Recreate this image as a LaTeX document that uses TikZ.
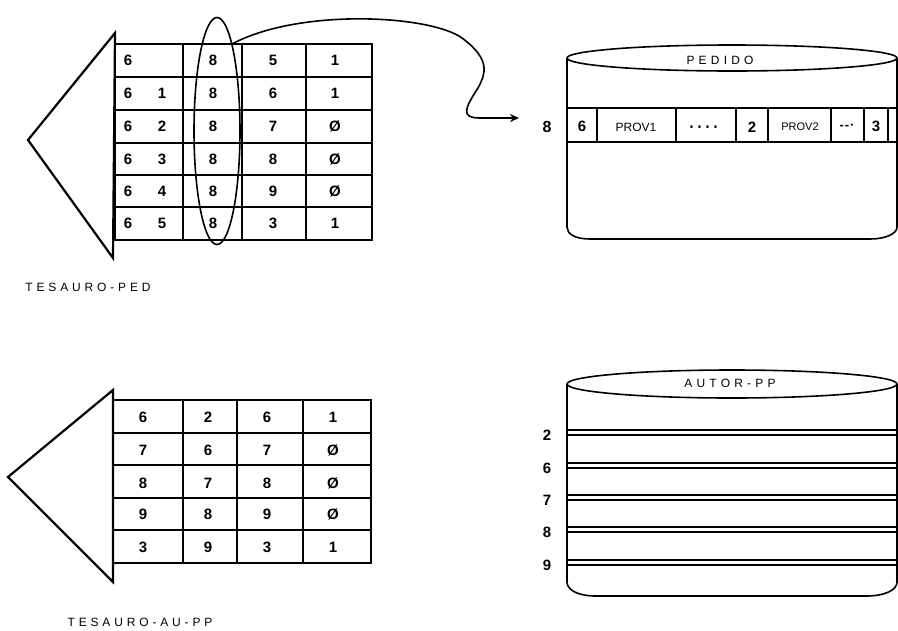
\documentclass[tikz,border=0pt]{standalone}
\usepackage{fontspec}
\setmainfont{Liberation Sans}
\usetikzlibrary{shapes.geometric,arrows.meta}
\begin{document}
\begin{tikzpicture}[x=1pt,y=-1pt,
  grid/.style={line width=1.6pt},
  thick line/.style={line width=2.2pt},
  cell/.style={font=\fontsize{15}{15}\selectfont\bfseries, inner sep=0pt},
  small/.style={font=\fontsize{12}{12}\selectfont, inner sep=0pt},
  lab/.style={font=\fontsize{12}{12}\selectfont\addfontfeature{LetterSpace=32}, inner sep=0pt},
  title/.style={font=\fontsize{12}{12}\selectfont\addfontfeature{LetterSpace=35}, inner sep=0pt}]
\useasboundingbox (0,0) rectangle (898,630);
% ---------- top table TESAURO-PED
\draw[thick line] (115,33) -- (28,140) -- (113,258) -- cycle;
\draw[grid] (115,44) rectangle (372,240);
\foreach \yy in {77,110,143,175,207} \draw[grid] (115,\yy) -- (372,\yy);
\foreach \xx in {183,242,306} \draw[thick line] (\xx,44) -- (\xx,240);
\foreach \yy/\b/\c/\d [count=\i] in {60/{}/5/1, 93/1/6/1, 126/2/7/\O, 159/3/8/\O, 191/4/9/\O, 223/5/3/1}{
  \node[cell] (pa\i) at (128,\yy) {6};
  \node[cell] (pb\i) at (162,\yy) {\b};
  \node[cell] (pc\i) at (213,\yy) {8};
  \node[cell] (pd\i) at (273,\yy) {\c};
  \node[cell] (pe\i) at (335,\yy) {\d};
}
\node[draw, ellipse, line width=1.6pt, minimum width=46, minimum height=227, inner sep=0pt] (sel) at (217,131) {};
\node[lab] (tped) at (88,287) {TESAURO-PED};
% ---------- PEDIDO cylinder
\draw[grid] (567,58) -- (567,227) .. controls (567,234) and (575,239) .. (590,239) -- (870,239) .. controls (885,239) and (897,234) .. (897,227) -- (897,58);
\draw[grid] (732,58) ellipse [x radius=165, y radius=13];
\node[title] (ped) at (720,60) {PEDIDO};
\draw[grid] (567,108) -- (897,108);
\draw[grid] (567,142) -- (897,142);
\foreach \xx in {597,676,736,768,831,864,888} \draw[grid] (\xx,108) -- (\xx,142);
\node[cell] (r1) at (582,126) {6};
\node[small] (r2) at (636,127) {PROV1};
\node[small, font=\fontsize{16}{16}\selectfont\bfseries] (r3) at (704,129) {·\,·\,·\,·};
\node[cell] (r4) at (752,127) {2};
\node[small, font=\fontsize{11}{11}\selectfont] (r5) at (800,127) {PROV2};
\node[small, font=\fontsize{13}{13}\selectfont\bfseries] (r6) at (847,127) {-\kern1pt-\kern1pt·};
\node[cell] (r7) at (876,126) {3};
\node[cell, font=\fontsize{16}{16}\selectfont\bfseries] (k8) at (547,127) {8};
\coordinate (aend) at (519,118);
\draw[line width=1.6pt, -{Stealth[length=9pt,width=8pt]}] (sel.80) .. controls (300,8) and (430,15) .. (462,38) .. controls (492,60) and (485,75) .. (478,88) .. controls (465,108) and (460,118) .. (480,118) -- (aend);
% ---------- bottom table TESAURO-AU-PP
\draw[thick line] (113,390) -- (8,477) -- (113,582) -- cycle;
\draw[grid] (113,400) rectangle (371,563);
\foreach \yy in {433,465,498,530} \draw[grid] (113,\yy) -- (371,\yy);
\foreach \xx in {183,237,303} \draw[thick line] (\xx,400) -- (\xx,563);
\foreach \yy/\a/\b/\c/\d [count=\i] in {417/6/2/6/1, 450/7/6/7/\O, 483/8/7/8/\O, 514/9/8/9/\O, 547/3/9/3/1}{
  \node[cell] (qa\i) at (143,\yy) {\a};
  \node[cell] (qb\i) at (208,\yy) {\b};
  \node[cell] (qc\i) at (267,\yy) {\c};
  \node[cell] (qd\i) at (333,\yy) {\d};
}
\node[lab] (tau) at (140,622) {TESAURO-AU-PP};
% ---------- AUTOR-PP cylinder
\draw[grid] (567,384) -- (567,582) .. controls (567,590) and (578,596) .. (596,596) -- (866,596) .. controls (885,596) and (897,590) .. (897,582) -- (897,384);
\draw[grid] (732,384) ellipse [x radius=165, y radius=14];
\node[title] (aut) at (730,383) {AUTOR-PP};
\foreach \ya/\yb/\t [count=\i] in {430/435/2, 463/468/6, 495/500/7, 527/532/8, 560/565/9}{
  \draw[line width=1.1pt] (567,\ya) -- (897,\ya);
  \draw[line width=1.1pt] (567,\yb) -- (897,\yb);
  \node[cell] (al\i) at (547,\yb) {\t};
}
\end{tikzpicture}
\end{document}
